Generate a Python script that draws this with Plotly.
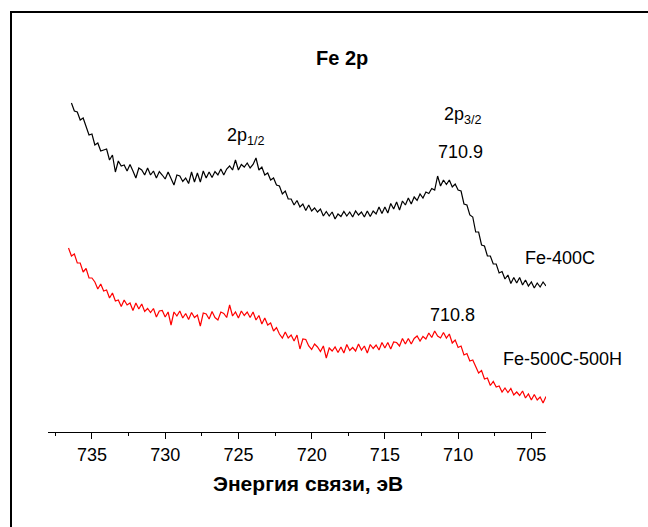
import plotly.graph_objects as go

# ---- data (intensity in arbitrary units) ----
black_start_ev = 736.4
red_start_ev = 736.6
step_ev = 0.2

fe400c = [3290,3210,3200,3120,3140,3060,2970,2980,2870,2890,
          2810,2820,2830,2720,2770,2600,2710,2660,2670,2610,
          2675,2610,2540,2640,2620,2570,2640,2570,2610,2540,
          2605,2570,2530,2600,2540,2470,2570,2560,2505,2540,
          2485,2600,2500,2590,2500,2610,2540,2600,2545,2605,
          2570,2630,2570,2630,2660,2620,2720,2620,2675,2650,
          2690,2640,2675,2740,2620,2650,2570,2590,2520,2540,
          2470,2460,2380,2410,2330,2330,2270,2315,2250,2280,
          2215,2270,2210,2240,2200,2230,2160,2205,2160,2200,
          2130,2180,2155,2205,2160,2200,2150,2210,2170,2200,
          2150,2210,2155,2210,2180,2250,2185,2250,2190,2285,
          2230,2300,2220,2310,2270,2340,2280,2350,2315,2380,
          2340,2400,2385,2435,2420,2560,2460,2520,2475,2520,
          2450,2480,2420,2410,2280,2270,2170,2150,2000,2000,
          1870,1860,1760,1760,1680,1680,1590,1605,1530,1570,
          1485,1545,1490,1545,1470,1520,1460,1500,1440,1490,
          1450,1500,1460]

fe500c = [1840,1760,1780,1690,1690,1600,1635,1540,1540,1500,
          1430,1480,1410,1420,1340,1390,1310,1320,1255,1320,
          1270,1290,1215,1290,1230,1280,1205,1235,1195,1235,
          1150,1210,1215,1150,1200,1070,1200,1160,1210,1140,
          1185,1125,1195,1145,1170,1060,1190,1180,1130,1205,
          1145,1120,1200,1185,1145,1270,1160,1200,1140,1210,
          1165,1200,1145,1200,1120,1165,1080,1140,1070,1090,
          1010,1045,980,940,1000,940,970,910,970,830,
          930,925,860,825,880,850,805,860,740,840,
          810,850,795,850,790,875,815,845,810,880,
          820,860,790,875,835,870,820,895,840,895,
          830,900,895,860,935,880,935,880,935,960,
          910,955,930,990,945,1010,960,940,995,940,
          980,890,920,845,860,770,785,710,720,645,
          590,615,530,540,465,505,450,460,400,440,
          395,435,370,400,365,410,340,380,320,375,
          320,350,290,355]

tick_vals = [735, 730, 725, 720, 715, 710, 705]
tick_text = ["735", "730", "725", "720", "715", "710", "705"]
minor_vals = [737.5, 732.5, 727.5, 722.5, 717.5, 712.5, 707.5]

x_black = [round(black_start_ev - step_ev * i, 1) for i in range(len(fe400c))]
x_red = [round(red_start_ev - step_ev * i, 1) for i in range(len(fe500c))]

FONT = "Liberation Sans, Arial, sans-serif"
W, H = 648, 527
ML, MR, MT, MB = 48, 102, 80, 95
PW, PH = W - ML - MR, H - MT - MB


def px(x):
    return (x - ML) / PW


def py(y):
    return (H - MB - y) / PH


fig = go.Figure()
fig.add_trace(go.Scatter(x=x_black, y=fe400c, mode="lines",
                         line=dict(color="black", width=1.2), name="Fe-400C"))
fig.add_trace(go.Scatter(x=x_red, y=fe500c, mode="lines",
                         line=dict(color="#ff0000", width=1.2), name="Fe-500C-500H"))

ann = [
    ("<b>Fe 2p</b>", 342, 58, 20),
    ("2p<sub>1/2</sub>", 246, 136, 18),
    ("2p<sub>3/2</sub>", 463, 115, 18),
    ("710.9", 460, 152, 18),
    ("710.8", 452, 315, 18),
    ("Fe-400C", 560, 258, 18),
    ("Fe-500C-500H", 562, 359, 18),
    ("<b>Энергия связи, эВ</b>", 308, 483, 21),
]
annotations = [dict(text=t, x=px(x), y=py(y), xref="paper", yref="paper",
                    xanchor="center", yanchor="middle", showarrow=False,
                    font=dict(family=FONT, size=s, color="black"))
               for t, x, y, s in ann]

fig.update_layout(
    width=W, height=H,
    margin=dict(l=ML, r=MR, t=MT, b=MB, pad=0),
    paper_bgcolor="white", plot_bgcolor="white",
    showlegend=False,
    font=dict(family=FONT, color="black"),
    annotations=annotations,
    shapes=[dict(type="rect", xref="paper", yref="paper",
                 x0=px(11), x1=px(700), y0=py(600), y1=py(12),
                 line=dict(color="black", width=2), fillcolor="rgba(0,0,0,0)")],
)
fig.update_xaxes(
    range=[738, 704], showgrid=False, zeroline=False,
    showline=True, linecolor="black", linewidth=1,
    tickmode="array", tickvals=tick_vals, ticktext=tick_text,
    ticks="outside", ticklen=6, tickwidth=1, tickcolor="black",
    tickfont=dict(family=FONT, size=18, color="black"),
    minor=dict(ticks="outside", ticklen=3, tickwidth=1, tickcolor="black",
               tickmode="array", tickvals=minor_vals),
)
fig.update_yaxes(range=[0, 3520], visible=False)

fig.write_html("out.html")
